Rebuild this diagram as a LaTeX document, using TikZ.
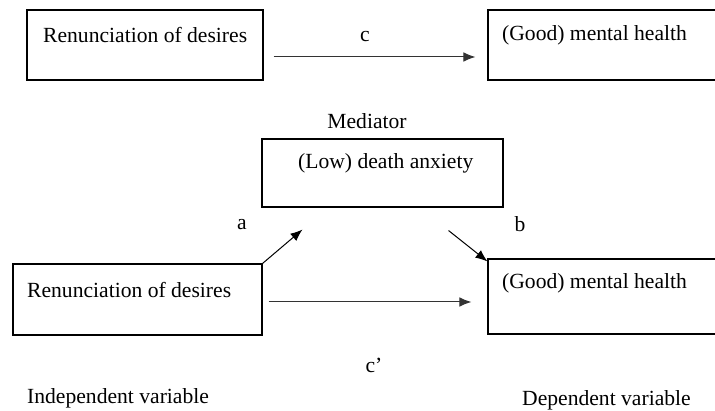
\documentclass[tikz,border=0pt]{standalone}
\usepackage{fontspec}
\setmainfont{Liberation Serif}
\usetikzlibrary{arrows.meta,calc}
\begin{document}
\begin{tikzpicture}[x=1pt,y=-1pt,
  box/.style={draw,line width=1.1pt,rectangle,inner sep=0pt},
  txt/.style={font=\fontsize{21.6}{25}\selectfont,inner sep=0pt,anchor=west},
  arr/.style={line width=1pt,draw=black!80,-{Latex[length=12pt,width=9.5pt]}}]
\useasboundingbox (0,0) rectangle (715,411);
\clip (0,0) rectangle (715,411);
% top row
\node[box,minimum width=236pt,minimum height=70pt] (tl) at (145,45) {};
\node[box,minimum width=412pt,minimum height=70pt] (tr) at (694,45) {};
\node[txt] (tlt) at (43,35) {Renunciation of desires};
\node[txt] (trt) at (502,35) {(Good) mental health};
\node[txt,anchor=center] (lc) at (365,37) {c};
\draw[arr] ([shift={(10,12)}]tl.east) -- ([shift={(-12,12)}]tr.west);
% mediator
\node[txt,anchor=center] (medl) at (367,121) {Mediator};
\node[box,minimum width=241pt,minimum height=68pt] (med) at (382.5,173) {};
\node[txt] (medt) at (298,163) {(Low) death anxiety};
% bottom row
\node[box,minimum width=249pt,minimum height=71pt] (bl) at (137.5,299.5) {};
\node[box,minimum width=412pt,minimum height=75pt] (br) at (694,296.5) {};
\node[txt] (blt) at (27,290) {Renunciation of desires};
\node[txt] (brt) at (502,283) {(Good) mental health};
\node[txt,anchor=center] (la) at (242,225) {a};
\node[txt,anchor=center] (lb) at (520,224) {b};
\node[txt,anchor=center] (lcp) at (374,365) {c’};
\node[txt] (iv) at (27,398) {Independent variable};
\node[txt] (dv) at (522,400) {Dependent variable};
\draw[arr,draw=black] (bl.north east) -- ([shift={(41,22)}]med.south west);
\draw[arr,draw=black] ([shift={(-55,23)}]med.south east) -- ([shift={(0,3)}]br.north west);
\draw[arr] ([shift={(6,2.5)}]bl.east) -- ([shift={(-16,5.5)}]br.west);
\end{tikzpicture}
\end{document}
